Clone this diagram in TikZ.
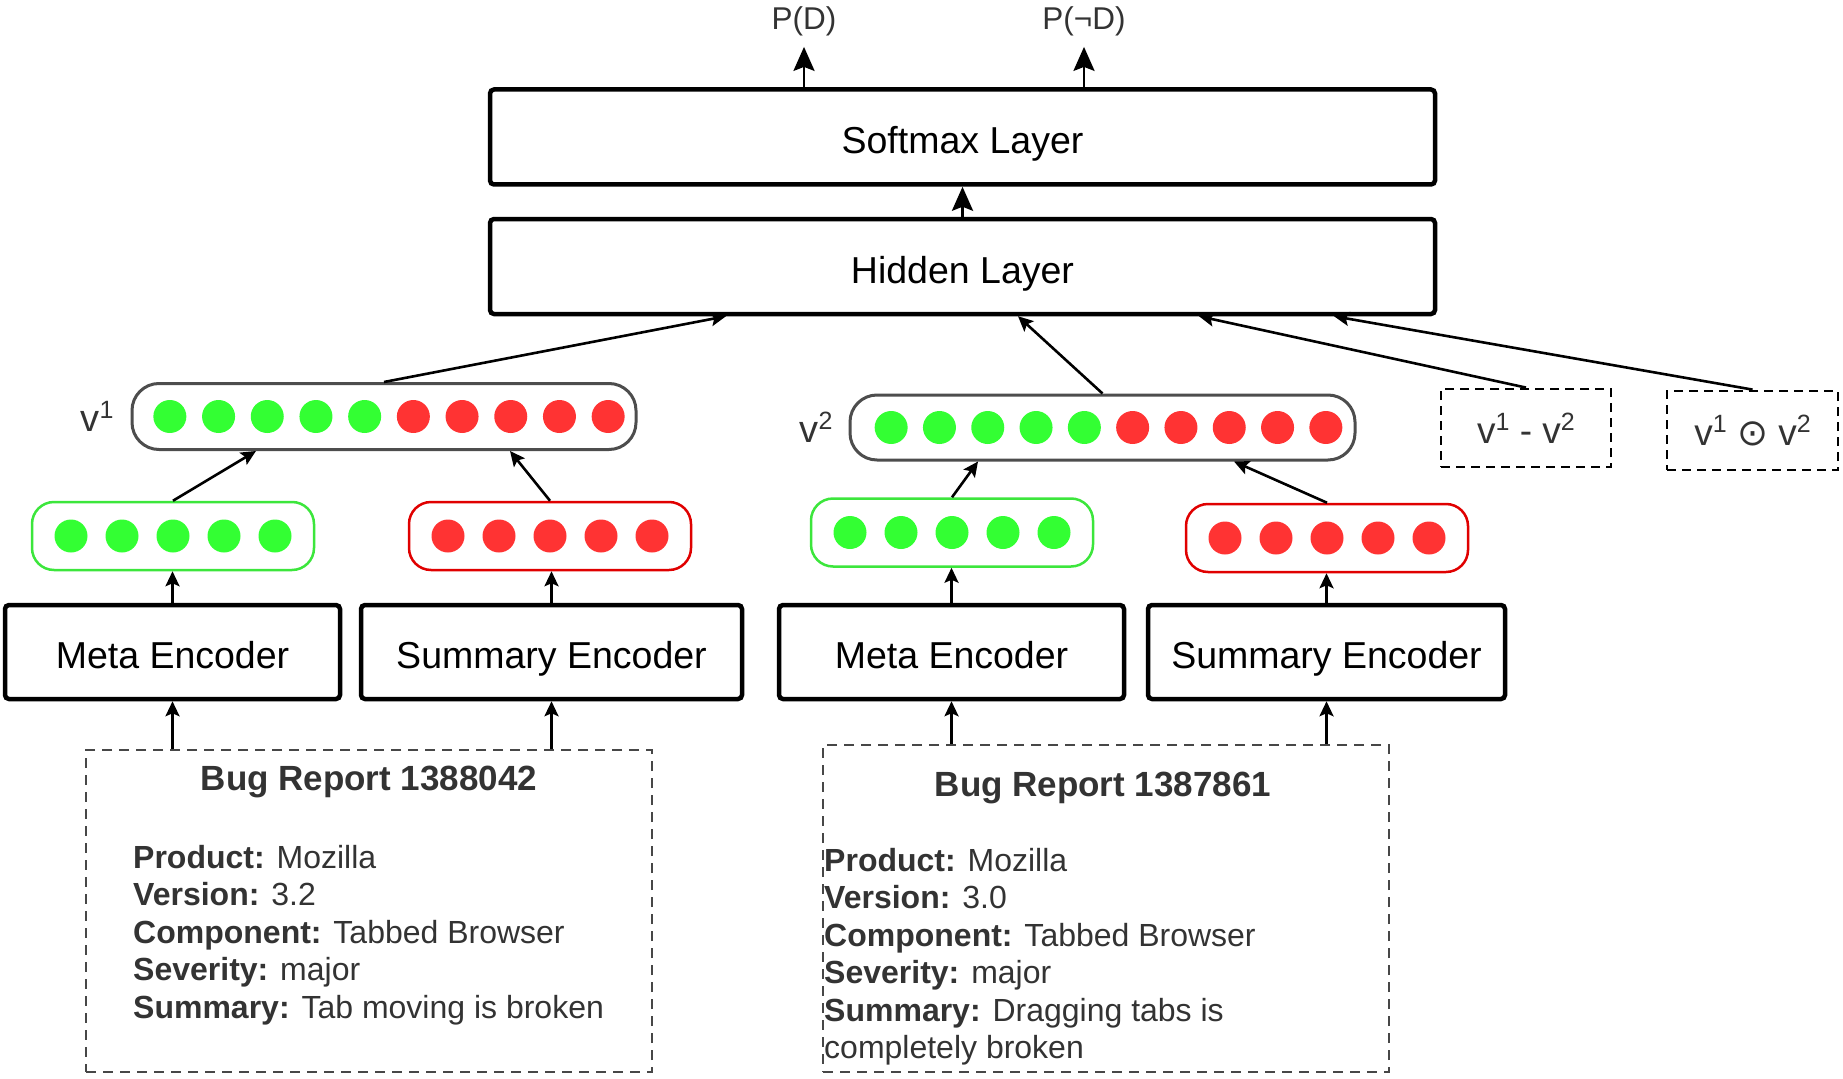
\documentclass[tikz,border=0pt]{standalone}
\usepackage{fontspec}
\setmainfont{Liberation Sans}
\newfontfamily\dejavu{DejaVu Sans}
\usetikzlibrary{arrows.meta,calc}
\definecolor{dotgreen}{HTML}{33FF33}
\definecolor{dotred}{HTML}{FF3333}
\definecolor{gborder}{HTML}{3CE63C}
\definecolor{rborder}{HTML}{E00000}
\definecolor{vborder}{HTML}{4D4D4D}
\definecolor{txt}{HTML}{333333}
\newcommand\vsup[1]{\raisebox{13pt}{\fontsize{25}{25}\selectfont #1}}
\tikzset{
  layer/.style={draw=black, line width=4.5pt, rounded corners=4pt, minimum width=945pt, minimum height=95pt, inner sep=0pt, text height=34pt, text depth=0pt, font=\fontsize{37.5}{45}\selectfont},
  enc/.style={draw=black, line width=4.5pt, rounded corners=4pt, minimum height=94pt, inner sep=0pt, text height=33pt, text depth=0pt, font=\fontsize{37.5}{45}\selectfont},
  gbox/.style={draw=gborder, line width=2.5pt, rounded corners=22pt, minimum width=282pt, minimum height=68pt, inner sep=0pt},
  rbox/.style={draw=rborder, line width=2.5pt, rounded corners=22pt, minimum width=282pt, minimum height=68pt, inner sep=0pt},
  vbox/.style={draw=vborder, line width=3pt, rounded corners=27pt, minimum height=66pt, inner sep=0pt},
  gdot/.style={circle, fill=dotgreen, minimum size=33pt, inner sep=0pt},
  rdot/.style={circle, fill=dotred, minimum size=33pt, inner sep=0pt},
  dbox/.style={draw=black, line width=2.8pt, dash pattern=on 9pt off 6pt, inner sep=0pt, font=\fontsize{37}{44}\selectfont, text=txt},
  bug/.style={draw=txt!90, line width=2.5pt, dash pattern=on 10pt off 7pt, inner sep=0pt},
  bugtitle/.style={inner sep=0pt, text=txt, font=\fontsize{35}{42}\selectfont\bfseries},
  bugtext/.style={inner sep=0pt, text=txt, align=left, font=\fontsize{32}{37.5}\selectfont},
  vlabel/.style={inner sep=0pt, text=txt, font=\fontsize{38}{44}\selectfont},
  plabel/.style={inner sep=2pt, text=txt, font=\fontsize{31.5}{38}\selectfont},
  arr/.style={-{Stealth[length=15pt,width=14pt,inset=3pt]}, line width=2.6pt},
  bigarr/.style={-{Stealth[length=24pt,width=21pt,inset=4pt]}, line width=2.8pt},
}
\begin{document}
\begin{tikzpicture}[x=1pt,y=-1pt]
\useasboundingbox (0,0) rectangle (1843,1078);

% layers
\node[layer] (soft) at (962.5,137) {Softmax Layer};
\node[layer] (hid) at (962.5,266.5) {Hidden Layer};

% output labels
\node[plabel] (pd) at (804,21) {P(D)};
\node[plabel] (pnd) at (1084,21) {P(¬D)};

% vectors
\node[vbox, minimum width=504pt] (v1) at (384,416.5) {};
\node[vbox, minimum width=505pt, minimum height=65pt] (v2) at (1102.5,427.5) {};
\foreach \i in {0,...,4} {
  \node[gdot] (v1g\i) at ($(389,416.5)+({(\i-4.5)*48.7},0)$) {};
  \node[gdot] (v2g\i) at ($(1108.5,427.5)+({(\i-4.5)*48.3},0)$) {};
}
\foreach \i in {5,...,9} {
  \node[rdot] (v1r\i) at ($(389,416.5)+({(\i-4.5)*48.7},0)$) {};
  \node[rdot] (v2r\i) at ($(1108.5,427.5)+({(\i-4.5)*48.3},0)$) {};
}
\node[vlabel] (v1l) at (97,416) {v\vsup{1}};
\node[vlabel] (v2l) at (816,427) {v\vsup{2}};

% combination boxes
\node[dbox, minimum width=170pt, minimum height=78pt] (d1) at (1526,428) {v\vsup{1} - v\vsup{2}};
\node[dbox, minimum width=171pt, minimum height=79pt] (d2) at (1752.5,430.5) {v\vsup{1} {\dejavu ⊙} v\vsup{2}};

% encoder outputs
\node[gbox] (g1) at (173,536) {};
\node[rbox] (r1) at (550,536) {};
\node[gbox] (g2) at (952,532.5) {};
\node[rbox] (r2) at (1327,538) {};
\foreach \b in {g1,g2} {
  \foreach \i in {0,...,4} {
    \node[gdot] (\b d\i) at ($(\b)+({(\i-2)*51},0)$) {};
  }
}
\foreach \b in {r1,r2} {
  \foreach \i in {0,...,4} {
    \node[rdot] (\b d\i) at ($(\b)+({(\i-2)*51},0)$) {};
  }
}

% encoders
\node[enc, minimum width=335pt] (me1) at (172.5,652) {Meta Encoder};
\node[enc, minimum width=381pt] (se1) at (551.5,652) {Summary Encoder};
\node[enc, minimum width=345pt] (me2) at (951.5,652) {Meta Encoder};
\node[enc, minimum width=357pt] (se2) at (1326.5,652) {Summary Encoder};

% bug reports
\node[bug, minimum width=566pt, minimum height=322pt] (b1) at (369,911) {};
\node[bug, minimum width=566pt, minimum height=327pt] (b2) at (1106,908.5) {};
\node[bugtitle, anchor=base] (b1t) at (369,790) {Bug Report 1388042};
\node[bugtext, anchor=base west] (b1x) at (133,1018) {\textbf{Product:} Mozilla\\\textbf{Version:} 3.2\\\textbf{Component:} Tabbed Browser\\\textbf{Severity:} major\\\textbf{Summary:} Tab moving is broken};
\node[bugtitle, anchor=base] (b2t) at (1103,796) {Bug Report 1387861};
\node[bugtext, anchor=base west] (b2x) at (824,1058.5) {\textbf{Product:} Mozilla\\\textbf{Version:} 3.0\\\textbf{Component:} Tabbed Browser\\\textbf{Severity:} major\\\textbf{Summary:} Dragging tabs is\\completely broken};

% connectors
\draw[arr] (b1.north -| me1) -- (me1.south);
\draw[arr] (b1.north -| se1) -- (se1.south);
\draw[arr] (b2.north -| me2) -- (me2.south);
\draw[arr] (b2.north -| se2) -- (se2.south);
\draw[arr] (me1.north) -- (me1.north |- g1.south);
\draw[arr] (se1.north) -- (se1.north |- r1.south);
\draw[arr] (me2.north) -- (me2.north |- g2.south);
\draw[arr] (se2.north) -- (se2.north |- r2.south);
\draw[arr] (g1.north) -- ([xshift=-128pt]v1.south);
\draw[arr] (r1.north) -- ([xshift=126pt]v1.south);
\draw[arr] (g2.north) -- ([xshift=-124.5pt]v2.south);
\draw[arr] (r2.north) -- ([xshift=131.5pt]v2.south);
\draw[arr] (v1.north) -- ([xshift=-236.5pt]hid.south);
\draw[arr] (v2.north) -- ([xshift=55.5pt]hid.south);
\draw[arr] (d1.north) -- ([xshift=236.5pt]hid.south);
\draw[arr] (d2.north) -- ([xshift=371.5pt]hid.south);
\draw[bigarr] (hid.north) -- (soft.south);
\draw[bigarr, shorten >=9pt] ([xshift=-158.5pt]soft.north) -- (pd.south);
\draw[bigarr, shorten >=9pt] ([xshift=121.5pt]soft.north) -- (pnd.south);
\end{tikzpicture}
\end{document}
